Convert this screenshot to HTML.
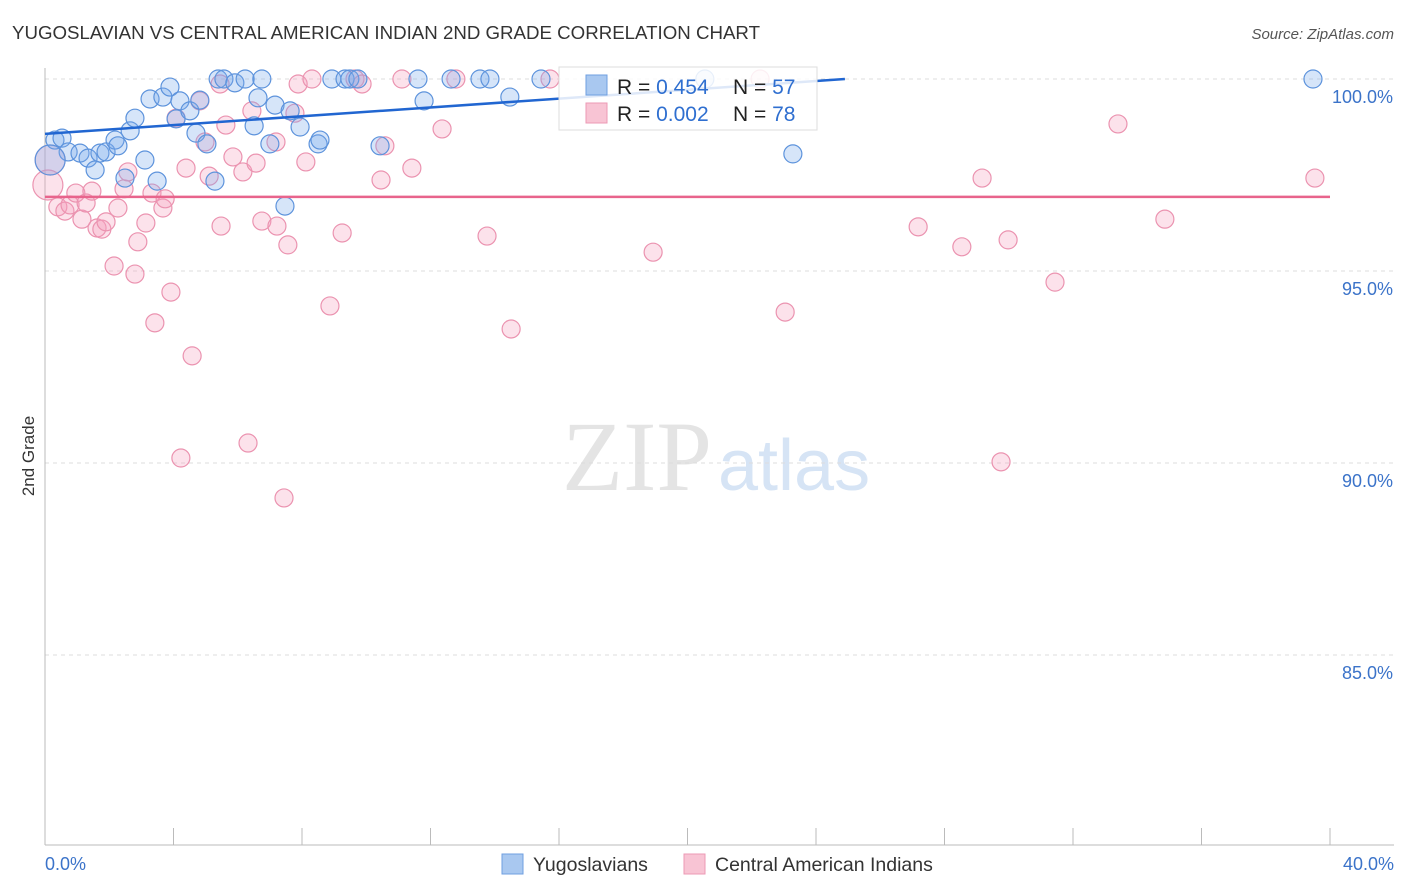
<!DOCTYPE html>
<html><head><meta charset="utf-8"><style>
body{margin:0;background:#fff;font-family:"Liberation Sans",sans-serif;}
#wrap{position:relative;width:1406px;height:892px;overflow:hidden;}
</style></head><body>
<div id="wrap">
<svg id="svg" width="1406" height="892" xmlns="http://www.w3.org/2000/svg">
<text x="12" y="39" font-size="18.7" fill="#333">YUGOSLAVIAN VS CENTRAL AMERICAN INDIAN 2ND GRADE CORRELATION CHART</text>
<text x="1394" y="39" font-size="15" fill="#555" font-style="italic" text-anchor="end">Source: ZipAtlas.com</text>
<text x="34" y="456" font-size="17" fill="#333" text-anchor="middle" transform="rotate(-90 34 456)">2nd Grade</text>
<text x="712" y="490" font-size="100" fill="#e4e4e4" font-family="Liberation Serif" text-anchor="end">ZIP</text>
<text x="718" y="490" font-size="72" fill="#d6e4f5" text-anchor="start">atlas</text>
<g id="grid"></g><g id="marks"></g><g id="lines"></g>
<g>
<rect x="559" y="67" width="258" height="63" fill="#fff" fill-opacity="0.85" stroke="#ddd"/>
<rect x="586" y="75" width="21" height="20" fill="#a9c8f0" stroke="#6f9fe0"/>
<rect x="586" y="103" width="21" height="20" fill="#f8c4d4" stroke="#ec9ab5"/>
<text x="617" y="94" font-size="21" fill="#222">R = <tspan fill="#2f6fd0">0.454</tspan></text>
<text x="733" y="94" font-size="21" fill="#222">N = <tspan fill="#2f6fd0">57</tspan></text>
<text x="617" y="121" font-size="21" fill="#222">R = <tspan fill="#2f6fd0">0.002</tspan></text>
<text x="733" y="121" font-size="21" fill="#222">N = <tspan fill="#2f6fd0">78</tspan></text>
</g>
<g>
<rect x="502" y="854" width="21" height="20" fill="#a9c8f0" stroke="#6f9fe0"/>
<text x="533" y="871" font-size="19.5" fill="#333">Yugoslavians</text>
<rect x="684" y="854" width="21" height="20" fill="#f8c4d4" stroke="#ec9ab5"/>
<text x="715" y="871" font-size="19.5" fill="#333">Central American Indians</text>
</g>
</svg>
</div>
<script>
const yTicks=[100,95,90,85];
const yTickLabels=["100.0%","95.0%","90.0%","85.0%"];
const xTicks=[0,4,8,12,16,20,24,28,32,36,40];
const xLabels=["0.0%","40.0%"];
const blueX=[0.31,0.53,0.72,1.09,1.34,1.56,1.71,1.90,2.18,2.27,2.49,2.65,2.80,3.11,3.27,3.49,3.67,3.89,4.08,4.20,4.51,4.70,4.82,5.04,5.29,5.39,5.57,5.91,6.23,6.51,6.63,6.75,7.00,7.16,7.47,7.63,7.94,8.50,8.56,8.93,9.34,9.49,9.74,10.43,11.61,11.80,12.64,13.54,13.85,14.47,15.44,20.54,23.28,39.47,0.16];
const blueY=[98.41,98.46,98.10,98.07,97.94,97.63,98.07,98.10,98.41,98.26,97.42,98.65,98.98,97.89,99.48,97.34,99.53,99.79,98.96,99.43,99.17,98.59,99.45,98.31,97.34,100,100,99.9,100,98.78,99.51,100,98.31,99.32,96.69,99.17,98.75,98.31,98.41,100,100,100,100,98.26,100,99.43,100,100,100,99.53,100,100,98.05,100,97.89];
const pinkX=[0.09,0.16,0.40,0.62,0.78,0.96,1.15,1.28,1.46,1.62,1.77,1.90,2.15,2.27,2.46,2.58,2.80,2.89,3.14,3.33,3.42,3.67,3.74,3.92,4.08,4.23,4.39,4.58,4.82,4.98,5.11,5.45,5.48,5.63,5.85,6.16,6.32,6.44,6.57,6.75,7.19,7.22,7.44,7.56,7.78,7.88,8.12,8.31,8.87,9.25,9.65,9.87,10.46,10.58,11.11,11.42,12.36,12.79,13.76,14.51,15.72,18.93,22.26,23.04,27.18,28.54,29.17,29.76,29.98,31.44,33.40,34.86,39.53];
const pinkY=[97.24,97.89,96.67,96.56,96.72,97.03,96.35,96.77,97.08,96.12,96.09,96.28,95.13,96.64,97.14,97.58,94.92,95.76,96.25,97.03,93.65,96.64,96.88,94.45,98.98,90.13,97.68,92.79,99.43,98.36,97.47,99.87,96.17,98.80,97.97,97.58,90.52,99.17,97.81,96.30,98.36,96.17,89.09,95.68,99.11,99.87,97.84,100,94.09,95.99,100,99.87,97.37,98.26,100,97.68,98.70,100,95.91,93.49,100,95.49,100,93.93,96.15,95.63,97.42,90.03,95.81,94.71,98.83,96.35,97.42];
const blueBig=[54];const pinkBig=[0,1];
const blueTrend=[[0,98.57],[24.9,100]];
const pinkTrend=[[0,96.93],[40,96.93]];
const NS="http://www.w3.org/2000/svg";
const X0=45,X1=1330,YT=79,PX_PER=38.4;
function sx(v){return X0+(v/40)*(X1-X0);}
function sy(v){return YT+(100-v)*PX_PER;}
function mk(t,a,p){const e=document.createElementNS(NS,t);for(const k in a)e.setAttribute(k,a[k]);p.appendChild(e);return e;}
const grid=document.getElementById('grid'),marks=document.getElementById('marks'),lines=document.getElementById('lines');
yTicks.forEach((t,i)=>{
 const l=mk('line',{x1:X0,x2:1394,y1:sy(t),y2:sy(t),stroke:'#ddd','stroke-dasharray':'4 4'},grid);
 
 
 const tx=mk('text',{x:1393,y:sy(t)+24,'font-size':18,fill:'#3b73c9','text-anchor':'end'},grid);
 tx.textContent=yTickLabels[i];
 
 
});
const ax=mk('line',{x1:X0,x2:X0,y1:68,y2:845,stroke:'#bbb'},grid);


const bx=mk('line',{x1:X0,x2:1394,y1:845,y2:845,stroke:'#bbb'},grid);


xTicks.forEach(t=>{
 const l=mk('line',{x1:sx(t),x2:sx(t),y1:828,y2:845,stroke:'#bbb'},grid);
 
 
});
[[0,'start',45],[40,'end',1394]].forEach((d,i)=>{
 const tx=mk('text',{x:d[2],y:870,'font-size':18,fill:'#3b73c9','text-anchor':d[1]},grid);
 tx.textContent=xLabels[i];
 
 
});
function pts(xs,ys,big,fill,stroke,name){
 xs.forEach((x,i)=>{
  const r=big.includes(i)?15:9;
  const c=mk('circle',{cx:sx(x),cy:sy(ys[i]),r:r,fill:fill,stroke:stroke,'stroke-width':1.2},marks);
  
  
 });
}
pts(pinkX,pinkY,pinkBig,'rgba(244,160,188,0.3)','#eb93b0','point-central-american-indian');
pts(blueX,blueY,blueBig,'rgba(120,170,235,0.3)','#5d93dc','point-yugoslavian');
function tl(p,col,name){
 const l=mk('line',{x1:sx(p[0][0]),y1:sy(p[0][1]),x2:sx(p[1][0]),y2:sy(p[1][1]),stroke:col,'stroke-width':2.5},lines);
 
 
}
tl(blueTrend,'#2166d1','trend-line-yugoslavians');
tl(pinkTrend,'#e8648c','trend-line-central-american-indians');
</script>
</body></html>
